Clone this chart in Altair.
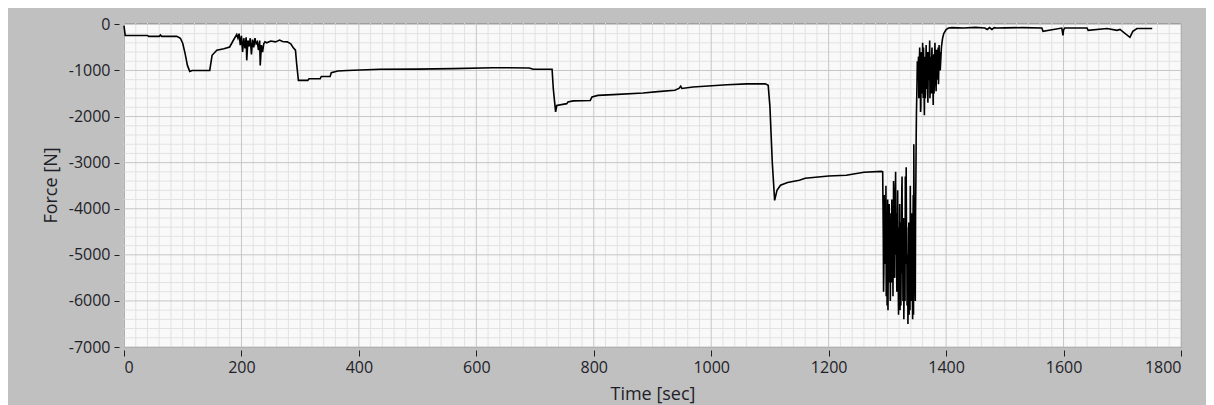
import altair as alt
import pandas as pd

# ---- data ----
time_s = [
    0, 2, 40, 42, 60, 62, 64, 90, 96, 100, 104, 108, 112, 116, 146, 150, 158, 170, 180, 186, 192,
    194, 196, 198, 200, 202, 204, 206, 208, 209, 211, 213, 215, 217, 219, 221, 223, 225, 227, 229,
    231, 232, 234, 236, 238, 240, 243,
    250, 258, 265, 270, 278, 284, 288, 292, 294, 297, 313, 315, 334, 336, 351, 353, 364, 380, 436,
    500, 560, 628, 690, 697, 729, 731, 735, 737, 754, 756, 765, 794, 797, 807, 833, 884, 909, 938,
    945, 948, 950, 969, 1027, 1061, 1092, 1097, 1100, 1104, 1108, 1112, 1118, 1130, 1150, 1160,
    1200, 1230, 1260, 1290,
    1292, 1293, 1294, 1295, 1296, 1297, 1298, 1299, 1300, 1301, 1302, 1303, 1304, 1305, 1306, 1307,
    1308, 1309, 1310, 1311, 1312, 1313, 1314, 1315, 1316, 1317, 1318, 1319, 1320, 1321, 1322, 1323,
    1324, 1325, 1326, 1327, 1328, 1329, 1330, 1331, 1332, 1333, 1334, 1335, 1336, 1337, 1338, 1339,
    1340, 1341, 1342, 1343, 1344, 1345, 1346, 1347, 1348, 1349, 1350, 1351,
    1352, 1353, 1354, 1355, 1356, 1357, 1358, 1359, 1360, 1361, 1362, 1363, 1364, 1365, 1366, 1367,
    1368, 1369, 1370, 1371, 1372, 1373, 1374, 1375, 1376, 1377, 1378, 1379, 1380, 1381, 1382, 1383,
    1384, 1385, 1386, 1387, 1388, 1389, 1390, 1392, 1394, 1396, 1400, 1404,
    1410, 1430, 1450, 1466, 1470, 1474, 1478, 1482, 1486, 1500, 1530, 1563, 1565, 1597, 1599, 1600,
    1602, 1640, 1642, 1674, 1691, 1696, 1713, 1718, 1725, 1751,
]
force_n = [
    -30, -240, -240, -260, -260, -230, -260, -260, -300, -410, -630, -890, -1020, -1000, -1000, -670,
    -560, -530, -490, -350, -220,
    -300, -200, -450, -250, -600, -300, -520, -280, -780, -350, -480, -300, -650, -330, -500, -300,
    -420, -380, -560, -350, -890, -450, -600, -420, -380, -400,
    -360, -380, -340, -370, -380, -420, -500, -560, -850, -1215, -1215, -1180, -1180, -1130, -1130,
    -1050, -1010, -1000, -975,
    -970, -960, -940, -945, -975, -975, -1390, -1900, -1760, -1720, -1685, -1660, -1650, -1575,
    -1540, -1525, -1490, -1460, -1430,
    -1390, -1340, -1390, -1360, -1310, -1290, -1290, -1320, -1790, -3000, -3820, -3600, -3490,
    -3430, -3380, -3340,
    -3290, -3275, -3210, -3190,
    -3200, -4600, -5400, -4300, -3800, -5000, -5900, -4500, -4900, -6200, -4400, -3900, -5300,
    -6000, -4100, -4700,
    -5600, -4000, -4800, -3600, -5200, -4200, -3200, -4600, -5800, -4400, -5100, -6300, -4900,
    -3900, -5500, -6100,
    -4700, -3300, -4500, -5700, -6400, -5000, -6000, -3800, -3100, -4400, -5600, -6500, -5200,
    -6300, -4800, -3500,
    -4600, -6000, -5400, -6400, -3700, -2600, -4200, -5500, -4000, -2500, -1580, -800,
    -1200, -700, -1500, -500, -1100, -1800, -600, -1300, -400, -1600, -900, -1970, -700, -1200,
    -450, -1400,
    -800, -1700, -600, -1100, -350, -1300, -700, -1500, -500, -1000, -1750, -650, -1200, -400,
    -900, -1450,
    -550, -1100, -800, -1300, -450, -700, -1000, -500, -300, -200, -115, -80,
    -70, -80, -65, -80, -110, -70, -110, -70, -80, -75, -70, -80, -150, -80, -240, -120,
    -80, -80, -130, -90, -130, -110, -280, -150, -90, -90,
]

# extra samples read in the dense oscillating stretches (1292-1390 s)
time_dense = [
    1292.5, 1293.5, 1294.5, 1295.5, 1296.5, 1297.5, 1298.5, 1299.5, 1300.5, 1301.5,
    1302.5, 1303.5, 1304.5, 1305.5, 1306.5, 1307.5, 1308.5, 1309.5, 1310.5, 1311.5,
    1312.5, 1313.5, 1314.5, 1315.5, 1316.5, 1317.5, 1318.5, 1319.5, 1320.5, 1321.5,
    1322.5, 1323.5, 1324.5, 1325.5, 1326.5, 1327.5, 1328.5, 1329.5, 1330.5, 1331.5,
    1332.5, 1333.5, 1334.5, 1335.5, 1336.5, 1337.5, 1338.5, 1339.5, 1340.5, 1341.5,
    1342.5, 1343.5, 1344.5, 1345.5, 1346.5, 1347.5, 1348.5, 1349.5, 1350.5,
    1352.5, 1353.5, 1354.5, 1355.5, 1356.5, 1357.5, 1358.5, 1359.5, 1360.5, 1361.5,
    1362.5, 1363.5, 1364.5, 1365.5, 1366.5, 1367.5, 1368.5, 1369.5, 1370.5, 1371.5,
    1372.5, 1373.5, 1374.5, 1375.5, 1376.5, 1377.5, 1378.5, 1379.5, 1380.5, 1381.5,
    1382.5, 1383.5, 1384.5, 1385.5, 1386.5, 1387.5, 1388.5, 1389.5,
]
force_dense = [
    -3900, -5800, -3700, -5200, -4600, -3500, -5300, -6100, -3800, -5000,
    -5600, -4700, -4200, -5100, -5400, -3800, -4500, -5900, -3400, -4700,
    -5500, -3700, -5000, -4100, -5200, -3600, -5700, -4400, -5300, -6200,
    -4300, -5000, -3600, -5400, -6000, -4200, -5800, -4600, -3300, -5200,
    -4700, -6100, -5000, -5800, -4300, -5500, -6200, -4900, -5300, -4100,
    -5800, -4500, -6300, -3900, -5100, -6000, -3400, -1900, -1200,
    -900, -1600, -800, -1300, -1900, -700, -1000, -1500, -1200, -500,
    -1400, -1100, -1600, -900, -1300, -600, -1500, -1000, -1200, -800,
    -1600, -900, -1100, -600, -1400, -1200, -800, -1500, -700, -1100,
    -1300, -600, -900, -1200, -500, -1000, -800, -600,
]

x_major = list(range(0, 1801, 200))
x_minor = [v for v in range(0, 1801, 20) if v % 200 != 0]
y_major = list(range(-7000, 1, 1000))
y_minor = [v for v in range(-7000, 1, 200) if v % 1000 != 0]

line_df = pd.concat([
    pd.DataFrame({"t": time_s, "f": force_n}),
    pd.DataFrame({"t": time_dense, "f": force_dense}),
]).sort_values("t").reset_index(drop=True)

X_DOM = [0, 1800]
Y_DOM = [-7000, 30]
FONT = "Open Sans"
TXT = "#1e1e28"
LABEL_EXPR = "replace(datum.label, '\u2212', '-')"

xs = alt.Scale(domain=X_DOM, nice=False, zero=False)
ys = alt.Scale(domain=Y_DOM, nice=False, zero=False)

x_axis = alt.Axis(values=x_major, grid=False, domain=False, offset=3, tickSize=6,
                  tickColor="#202020", tickWidth=1, labelPadding=3, labelFontSize=16,
                  labelFont=FONT, labelColor=TXT, titleFont=FONT, titleFontSize=18,
                  titleFontWeight="normal", titleColor=TXT, titlePadding=10,
                  labelOverlap=False, format="d", labelExpr=LABEL_EXPR)
y_axis = alt.Axis(values=y_major, grid=False, domain=False, offset=5, tickSize=5,
                  tickColor="#202020", tickWidth=1, labelPadding=4, labelFontSize=16,
                  labelFont=FONT, labelColor=TXT, titleFont=FONT, titleFontSize=18,
                  titleFontWeight="normal", titleColor=TXT, titlePadding=8,
                  labelOverlap=False, format="d", labelExpr=LABEL_EXPR)
X_TITLE = "Time [sec]"
Y_TITLE = "Force  [N]"

minor_v = alt.Chart(pd.DataFrame({"v": x_minor})).mark_rule(color="#e2e2e2", strokeWidth=1).encode(
    x=alt.X("v:Q", scale=xs, axis=x_axis, title=X_TITLE))
minor_h = alt.Chart(pd.DataFrame({"v": y_minor})).mark_rule(color="#e2e2e2", strokeWidth=1).encode(
    y=alt.Y("v:Q", scale=ys, axis=y_axis, title=Y_TITLE))
major_v = alt.Chart(pd.DataFrame({"v": x_major})).mark_rule(color="#c6c6c6", strokeWidth=1).encode(
    x=alt.X("v:Q", scale=xs, axis=x_axis, title=X_TITLE))
major_h = alt.Chart(pd.DataFrame({"v": y_major})).mark_rule(color="#c6c6c6", strokeWidth=1).encode(
    y=alt.Y("v:Q", scale=ys, axis=y_axis, title=Y_TITLE))

line = alt.Chart(line_df).mark_line(color="#000000", strokeWidth=1.6, interpolate="linear").encode(
    x=alt.X("t:Q", scale=xs, axis=x_axis, title=X_TITLE),
    y=alt.Y("f:Q", scale=ys, axis=y_axis, title=Y_TITLE),
    order="t:Q",
)

chart = alt.layer(minor_v, minor_h, major_v, major_h, line).properties(
    width=1057, height=324,
    autosize=alt.AutoSizeParams(type="none"),
    padding={"left": 116, "top": 15, "right": 25, "bottom": 58},
    background="#c0c0c0",
).configure_view(stroke="#9a9a9a", strokeWidth=1, fill="#f9f9f9")

chart.save("out.html", embed_options={"renderer": "svg", "actions": False})
